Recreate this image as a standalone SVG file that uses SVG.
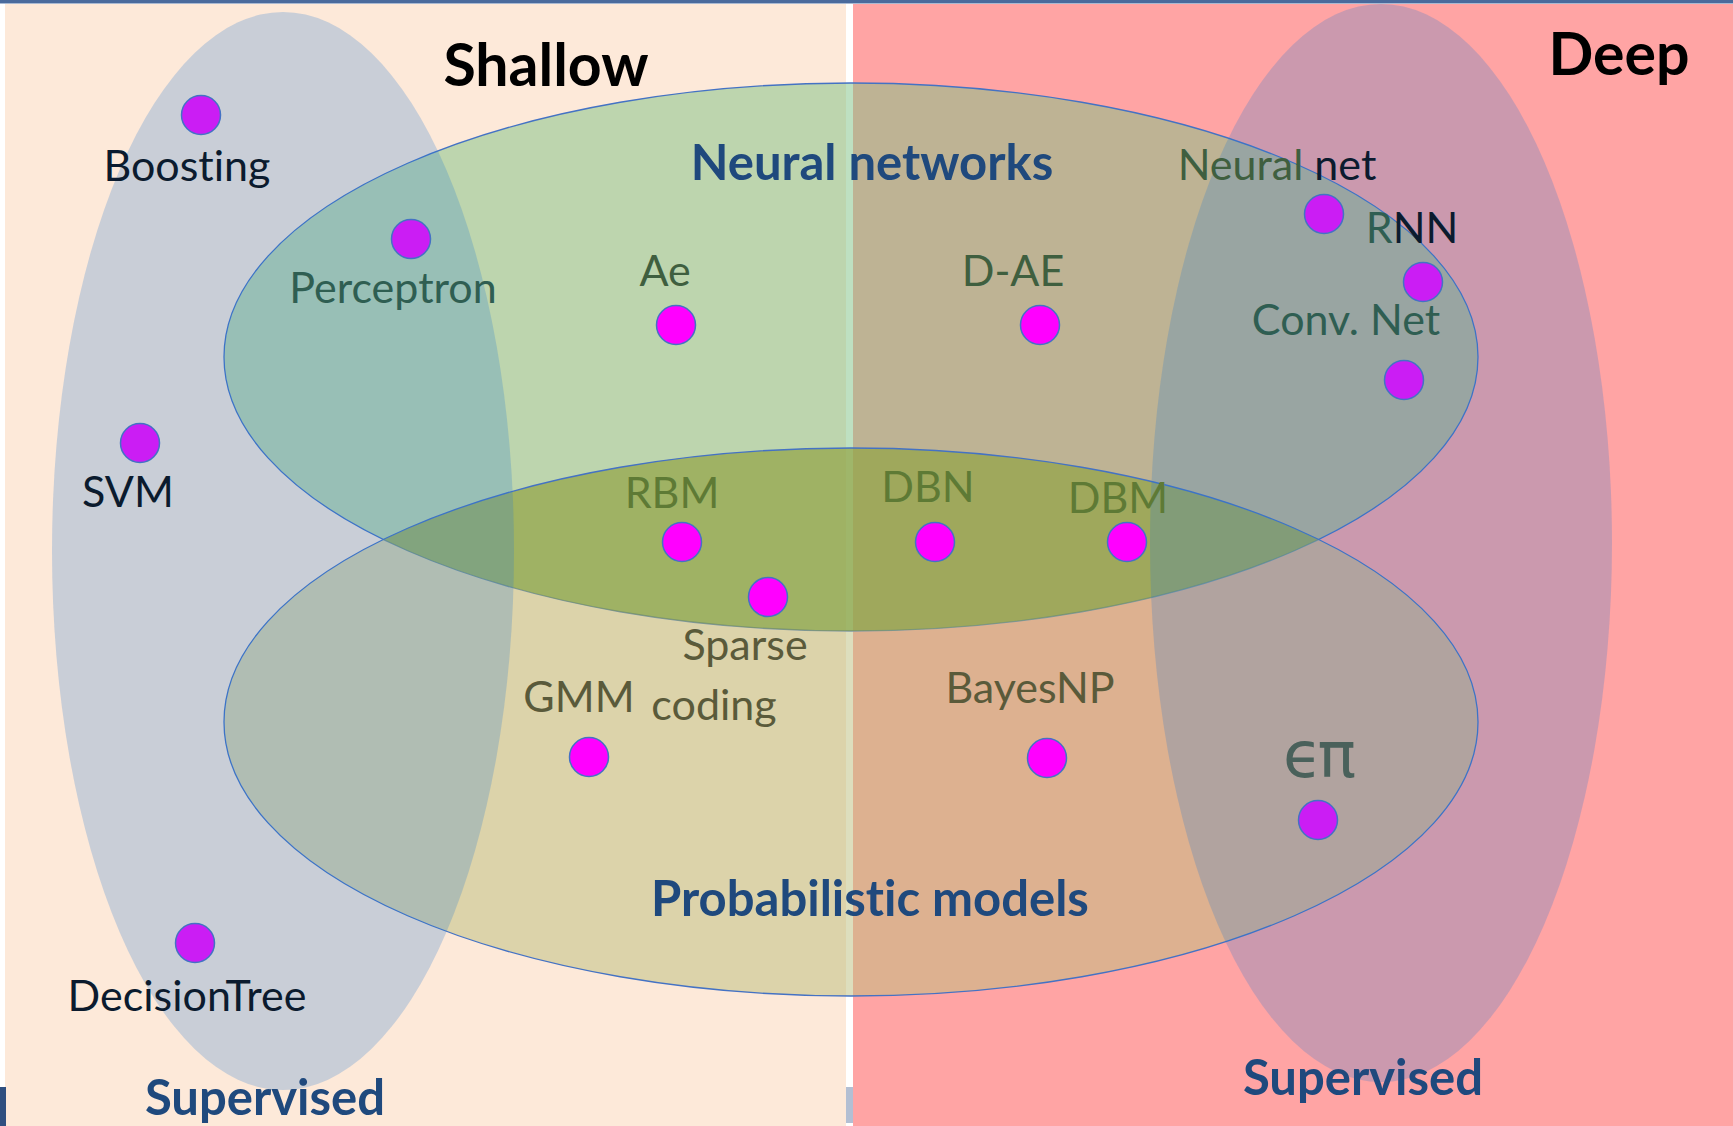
<svg xmlns="http://www.w3.org/2000/svg" width="1733" height="1126" viewBox="0 0 1733 1126">
  <style>
    text { font-variant-ligatures: none; font-feature-settings: "liga" 0, "clig" 0; }
    .item { font-family: Lato, 'Open Sans', 'DejaVu Sans', sans-serif; font-size: 43px; text-anchor: middle; }
    .greek { font-family: 'DejaVu Sans', sans-serif; font-size: 64px; letter-spacing: -5px; text-anchor: middle; fill: #4A615B; }
    .head { font-family: Lato, 'Open Sans', 'DejaVu Sans', sans-serif; font-weight: bold; text-anchor: middle; }
    .cat { fill: #1F497D; font-size: 49px; }
    .side { fill: #000000; font-size: 59px; }
    .dot { stroke: #4472C4; stroke-width: 1.5; }
    .plain { fill: #FF00FF; }
    .tint { fill: #CB1DF4; }
    .navy { fill: #0B1B2E; }
    .green { fill: #3F5F3F; }
    .teal { fill: #2F5E52; }
    .olive { fill: #5A5A3A; }
    .moss { fill: #5E7A35; }
    .set-line { fill: none; stroke: #4472C4; stroke-width: 1.3; }
  </style>
  <defs>
    <clipPath id="neural-clip">
      <ellipse cx="851" cy="357" rx="627" ry="274"/>
    </clipPath>
  </defs>

  <!-- backdrop: shallow half, deep half, divider -->
  <g id="backdrop">
    <rect x="0" y="0" width="1733" height="1126" fill="#FFFFFF"/>
    <rect x="5" y="3" width="841" height="1123" fill="#FDE9D9"/>
    <rect x="853" y="3" width="880" height="1123" fill="#FFA4A4"/>
    <rect x="0" y="0" width="1733" height="3" fill="#4A6A9C"/>
    <rect x="0" y="3" width="1733" height="1" fill="#A9B9D2"/>
    <rect x="0" y="1087" width="6" height="39" fill="#2F4F80"/>
    <rect x="846" y="1087" width="7" height="36" fill="#B3BFD3"/>
  </g>

  <!-- overlapping sets -->
  <g id="neural-networks-set">
    <ellipse cx="851" cy="357" rx="627" ry="274" fill="rgb(126,193,131)" fill-opacity="0.5" stroke="#4472C4" stroke-width="1.3"/>
  </g>
  <g id="probabilistic-set">
    <ellipse cx="851" cy="722" rx="627" ry="274" fill="rgb(188,189,123)" fill-opacity="0.5"/>
    <ellipse cx="851" cy="722" rx="627" ry="274" fill="rgb(115,144,28)" fill-opacity="0.4" clip-path="url(#neural-clip)"/>
    <ellipse class="set-line" cx="851" cy="722" rx="627" ry="274"/>
  </g>
  <g id="supervised-shallow-set">
    <ellipse cx="283" cy="551" rx="231" ry="539" fill="rgb(36,122,210)" fill-opacity="0.24"/>
  </g>
  <g id="supervised-deep-set">
    <ellipse cx="1381" cy="543" rx="231" ry="539" fill="rgb(36,122,210)" fill-opacity="0.24"/>
  </g>

  <!-- methods -->
  <g id="boosting">
    <circle class="dot tint" cx="201" cy="115" r="19.5"/>
    <text class="item navy" x="187" y="181">Boosting</text>
  </g>
  <g id="perceptron">
    <circle class="dot tint" cx="411" cy="239" r="19.5"/>
    <text class="item teal" x="393" y="303">Perceptron</text>
  </g>
  <g id="svm">
    <circle class="dot tint" cx="140" cy="443" r="19.5"/>
    <text class="item navy" x="128" y="507">SVM</text>
  </g>
  <g id="decision-tree">
    <circle class="dot tint" cx="195" cy="943" r="19.5"/>
    <text class="item navy" x="187" y="1011">DecisionTree</text>
  </g>
  <g id="ae">
    <circle class="dot plain" cx="676" cy="325" r="19.5"/>
    <text class="item green" x="665" y="286">Ae</text>
  </g>
  <g id="d-ae">
    <circle class="dot plain" cx="1040" cy="325" r="19.5"/>
    <text class="item green" x="1013" y="286">D-AE</text>
  </g>
  <g id="neural-net">
    <circle class="dot tint" cx="1324" cy="214" r="19.5"/>
    <text class="item" x="1277" y="180"><tspan class="green">Neural</tspan><tspan class="navy"> net</tspan></text>
  </g>
  <g id="rnn">
    <circle class="dot tint" cx="1423" cy="282" r="19.5"/>
    <text class="item" x="1412" y="243"><tspan class="teal">R</tspan><tspan class="navy">NN</tspan></text>
  </g>
  <g id="conv-net">
    <circle class="dot tint" cx="1404" cy="380" r="19.5"/>
    <text class="item teal" x="1346" y="335">Conv. Net</text>
  </g>
  <g id="rbm">
    <circle class="dot plain" cx="682" cy="542" r="19.5"/>
    <text class="item moss" x="672" y="508">RBM</text>
  </g>
  <g id="dbn">
    <circle class="dot plain" cx="935" cy="542" r="19.5"/>
    <text class="item moss" x="928" y="502">DBN</text>
  </g>
  <g id="dbm">
    <circle class="dot plain" cx="1127" cy="542" r="19.5"/>
    <text class="item moss" x="1118" y="513">DBM</text>
  </g>
  <g id="sparse-coding">
    <circle class="dot plain" cx="768" cy="597" r="19.5"/>
    <text class="item olive" x="745" y="660">Sparse</text>
    <text class="item olive" x="714" y="720">coding</text>
  </g>
  <g id="gmm">
    <circle class="dot plain" cx="589" cy="757" r="19.5"/>
    <text class="item olive" x="579" y="712">GMM</text>
  </g>
  <g id="bayes-np">
    <circle class="dot plain" cx="1047" cy="758" r="19.5"/>
    <text class="item olive" x="1030" y="703">BayesNP</text>
  </g>
  <g id="epsilon-pi">
    <circle class="dot tint" cx="1318" cy="820" r="19.5"/>
    <text class="greek" x="1317" y="777">ϵπ</text>
  </g>

  <!-- set and axis captions -->
  <g id="captions">
    <text class="head side" x="546" y="86">Shallow</text>
    <text class="head side" x="1619" y="75">Deep</text>
    <text class="head cat" x="872" y="180">Neural networks</text>
    <text class="head cat" x="870" y="916">Probabilistic models</text>
    <text class="head cat" x="265" y="1115">Supervised</text>
    <text class="head cat" x="1363" y="1095">Supervised</text>
  </g>
</svg>
